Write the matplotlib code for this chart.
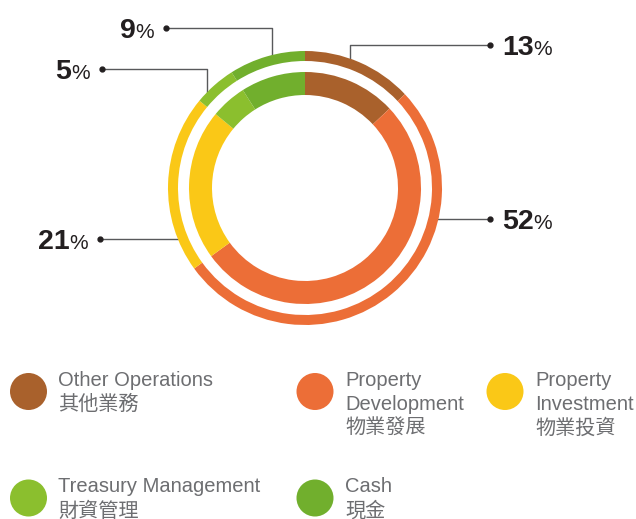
import numpy as np
import matplotlib.pyplot as plt
from matplotlib.patches import Circle

# Share of total assets (%)
categories = ["Other Operations", "Property\nDevelopment", "Property\nInvestment",
              "Treasury Management", "Cash"]
categories_zh = ["其他業務", "物業發展", "物業投資", "財資管理", "現金"]
shares = [13, 52, 21, 5, 9]
colors = ["#A9612C", "#EC6E37", "#FAC817", "#8BBF2E", "#71AF2D"]

FONTS = ["Liberation Sans", "Noto Sans CJK TC", "DejaVu Sans"]
W, H = 636, 519
cx, cy = 305, 188

fig = plt.figure(figsize=(W / 100, H / 100), dpi=100)
ax = fig.add_axes([0, 0, 1, 1])

# outer thin ring + inner thick ring (same split), clockwise from 12 o'clock
# y axis is flipped below, so counterclock=True reads clockwise on screen
ax.pie(shares, colors=colors, radius=137, center=(cx, cy), startangle=-90,
       counterclock=True, wedgeprops=dict(width=10, linewidth=0))
ax.pie(shares, colors=colors, radius=116, center=(cx, cy), startangle=-90,
       counterclock=True, wedgeprops=dict(width=23, linewidth=0))

ax.set_xlim(0, W)
ax.set_ylim(H, 0)
ax.set_aspect("equal")
ax.axis("off")

# leader lines: dot position and optional elbow x for each label
dots = [(490, 45), (490, 219), (100, 239), (102, 69), (166, 28)]
elbows = [350, None, None, 207, 272]
r_mid = 132

for val, (dx, dy), ex in zip(shares, dots, elbows):
    if ex is None:
        side = 1 if dx > cx else -1
        xr = cx + side * np.sqrt(r_mid ** 2 - (dy - cy) ** 2)
        xs, ys = [dx, xr], [dy, dy]
    else:
        yr = cy - np.sqrt(r_mid ** 2 - (ex - cx) ** 2)
        xs, ys = [dx, ex, ex], [dy, dy, yr]
    ax.plot(xs, ys, color="#58595B", lw=1.0, zorder=0)
    ax.plot(dx, dy, "o", ms=3.5, color="#231F20", zorder=3)

    base = dy + 10
    if dx > cx:
        t = ax.text(dx + 12, base, str(val), ha="left", va="baseline",
                    fontsize=20.5, fontweight="bold", color="#231F20", family=FONTS)
        ax.annotate("%", xy=(1.0, base), xycoords=(t, "data"), ha="left",
                    va="baseline", fontsize=15, color="#231F20", family=FONTS)
    else:
        t = ax.text(dx - 12, base, "%", ha="right", va="baseline",
                    fontsize=15, color="#231F20", family=FONTS)
        ax.annotate(str(val), xy=(0.0, base), xycoords=(t, "data"), ha="right",
                    va="baseline", fontsize=20.5, fontweight="bold",
                    color="#231F20", family=FONTS)

# legend
legend_pos = [(28.5, 391.5), (315, 391.5), (505, 391.5), (28.5, 498), (315, 498)]
for name, zh, col, (lx, ly) in zip(categories, categories_zh, colors, legend_pos):
    ax.add_patch(Circle((lx, ly), 18.5, color=col, lw=0))
    lines = name.split("\n") + [zh]
    for i, line in enumerate(lines):
        ax.text(lx + 30, ly - 5.5 + 24 * i, line, ha="left", va="baseline",
                fontsize=14.5, color="#6D6E71", family=FONTS, fontweight="light")

fig.savefig("out.png", dpi=100)
